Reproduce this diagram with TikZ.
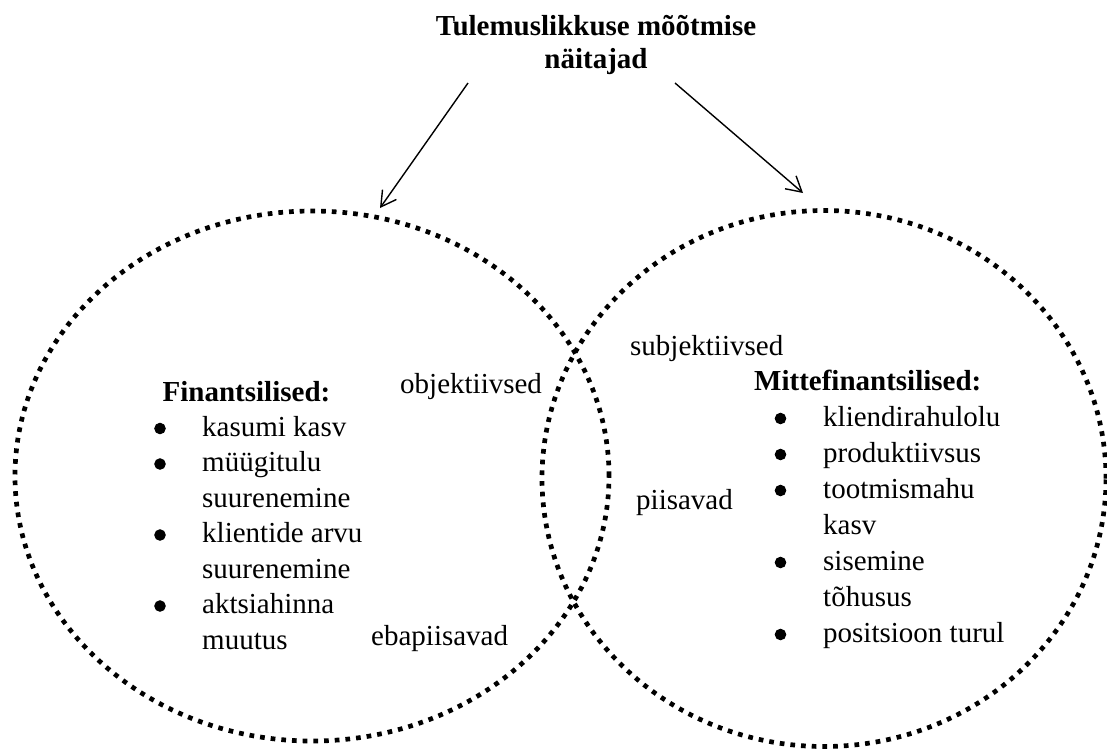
\documentclass[tikz,border=0pt]{standalone}
\usepackage{fontspec}
\setmainfont{Liberation Serif}
\usetikzlibrary{arrows.meta,shapes.geometric}
\begin{document}
\begin{tikzpicture}[x=1pt,y=-1pt,
  txt/.style={inner sep=0pt, anchor=base west, font=\fontsize{29}{35.5}\selectfont},
  ring/.style={ellipse, draw, inner sep=0pt, line width=4.7pt, dash pattern=on 4.7pt off 6pt},
  bullet/.style={circle, draw=black, fill=black, line width=1pt, inner sep=0pt, minimum size=10.5pt},
  pointer/.style={line width=1.4pt, -{Straight Barb[length=15pt,width=17pt]}}]
\useasboundingbox (0,0) rectangle (1107,748);

% two overlapping dotted sets
\node[ring, minimum width=594pt, minimum height=530pt] (fin) at (312,476) {};
\node[ring, minimum width=564pt, minimum height=536pt] (nonfin) at (824,478.5) {};

% heading
\node[inner sep=0pt, anchor=base, font=\fontsize{29}{33}\selectfont\bfseries] (title) at (596,35)
  {\begin{tabular}[t]{@{}c@{}}Tulemuslikkuse mõõtmise\\ näitajad\end{tabular}};

% arrows from the heading down to both sets
\coordinate (lfrom) at (468,83);
\coordinate (lto) at (380,208);
\coordinate (rfrom) at (675,83);
\coordinate (rto) at (803,193);
\draw[pointer] (lfrom) -- (lto);
\draw[pointer] (rfrom) -- (rto);

% financial indicators
\node[txt, font=\fontsize{29}{35.5}\selectfont\bfseries] (finhead) at (162.5,401) {Finantsilised:};
\node[txt] (finlist) at (202,436) {\begin{tabular}[t]{@{}l@{}}
kasumi kasv\\
müügitulu\\
suurenemine\\
klientide arvu\\
suurenemine\\
aktsiahinna\\
muutus
\end{tabular}};
\node[bullet] (fb1) at (160,428.5) {};
\node[bullet] (fb2) at (160,464) {};
\node[bullet] (fb3) at (160,535) {};
\node[bullet] (fb4) at (160,606) {};

% non-financial indicators
\node[txt, font=\fontsize{29}{36}\selectfont\bfseries] (nonhead) at (754,390) {Mittefinantsilised:};
\node[txt, font=\fontsize{29}{36}\selectfont] (nonlist) at (823,426) {\begin{tabular}[t]{@{}l@{}}
kliendirahulolu\\
produktiivsus\\
tootmismahu\\
kasv\\
sisemine\\
tõhusus\\
positsioon turul
\end{tabular}};
\node[bullet] (nb1) at (780.5,418.5) {};
\node[bullet] (nb2) at (780.5,454.5) {};
\node[bullet] (nb3) at (780.5,490.5) {};
\node[bullet] (nb4) at (780.5,562.5) {};
\node[bullet] (nb5) at (780.5,634.5) {};

% property labels
\node[txt] (obj) at (400,393) {objektiivsed};
\node[txt] (ebap) at (371,645) {ebapiisavad};
\node[txt] (subj) at (630,355) {subjektiivsed};
\node[txt] (piis) at (636,509) {piisavad};
\end{tikzpicture}
\end{document}
